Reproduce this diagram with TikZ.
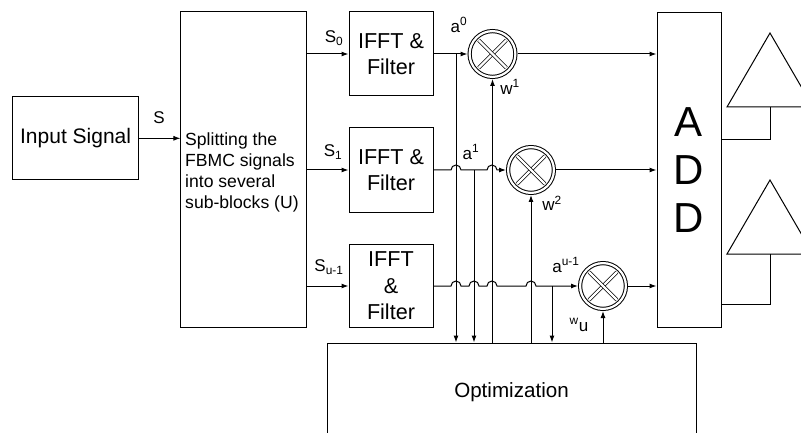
\documentclass[tikz,border=0pt]{standalone}
\usepackage{fontspec}
\setmainfont{Liberation Sans}
\usetikzlibrary{arrows.meta}

\tikzset{
    block/.style={draw, line width=1pt, inner sep=0pt, align=center},
    wire/.style={line width=1pt},
    arr/.style={wire, -{Latex[length=7pt,width=5pt]}},
    mult/.style={circle, draw, line width=1pt, double, double distance=2.2pt,
        minimum size=45.8pt, inner sep=0pt, outer sep=2.1pt},
    xmark/.style={line width=.8pt, double, double distance=2.2pt,
        shorten >=5.5pt, shorten <=5.5pt},
    lbl/.style={inner sep=0pt, font=\fontsize{17}{20}\selectfont},
}

\begin{document}
\begin{tikzpicture}[x=1pt, y=-1pt]
    \useasboundingbox (0,0) rectangle (801,433);
    \clip (0,0) rectangle (801,433);

    % blocks
    \node[block, minimum width=126pt, minimum height=83pt,
        font=\fontsize{21}{25}\selectfont] (input) at (75.6,138.3) {Input Signal};
    \node[block, minimum width=125.7pt, minimum height=315.7pt] (split) at (243.8,169.8) {};
    \node[anchor=north west, align=left, inner sep=0pt,
        font=\fontsize{17.6}{21}\selectfont] (splittext) at (185,133)
        {Splitting the\\FBMC signals\\into several\\sub-blocks (U)};
    \node[block, minimum width=84pt, minimum height=84pt,
        font=\fontsize{21.6}{26}\selectfont] (f1) at (391,54) {IFFT \&\\Filter};
    \node[block, minimum width=84pt, minimum height=84pt,
        font=\fontsize{21.6}{26}\selectfont] (f2) at (391,170) {IFFT \&\\Filter};
    \node[block, minimum width=84pt, minimum height=83pt,
        font=\fontsize{21.6}{26.5}\selectfont] (f3) at (391,286) {IFFT\\\&\\Filter};
    \node[mult] (m1) at (492.5,54) {};
    \node[mult] (m2) at (531,170) {};
    \node[mult] (m3) at (603,286) {};
    \foreach \m in {m1,m2,m3} {
        \draw[xmark] (\m.45) -- (\m.225);
        \draw[xmark] (\m.135) -- (\m.315);
    }
    \node[block, minimum width=64pt, minimum height=314pt,
        font=\fontsize{42}{48}\selectfont] (add) at (689,170) {A\\D\\D};
    \node[block, minimum width=369pt, minimum height=98pt,
        font=\fontsize{20.6}{24}\selectfont] (opt) at (511.5,392) {Optimization};

    % antennas
    \draw[wire] (727,107) -- (770,33) -- (813,107) -- cycle;
    \draw[wire] (727,254) -- (770,180) -- (813,254) -- cycle;
    \coordinate (ant1) at (770,107);
    \coordinate (ant2) at (770,254);
    \draw[wire] (add.east |- 0,140) -| (ant1);
    \draw[wire] (add.east |- 0,304) -| (ant2);

    % labels
    \node[lbl] (lS) at (159,118) {S};
    \node[lbl] (lS0) at (334,38) {S\textsubscript{0}};
    \node[lbl] (lS1) at (333,152) {S\textsubscript{1}};
    \node[lbl] (lSu) at (329,267) {S\textsubscript{u-1}};
    \node[lbl] (la0) at (459,25) {a\textsuperscript{0}};
    \node[lbl] (lw1) at (510,87) {w\textsuperscript{1}};
    \node[lbl] (la1) at (471,152) {a\textsuperscript{1}};
    \node[lbl] (lw2) at (552,203) {w\textsuperscript{2}};
    \node[lbl] (lau) at (566,265) {a\textsuperscript{u-1}};
    \node[lbl] (lwu) at (579,325) {\textsuperscript{w}u};

    % signal path
    \draw[arr] (input.east) -- (input.east -| split.west);
    \draw[arr] (split.east |- f1.west) -- (f1.west);
    \draw[arr] (split.east |- f2.west) -- (f2.west);
    \draw[arr] (split.east |- f3.west) -- (f3.west);

    \coordinate (j1) at (456,54);
    \coordinate (j2) at (474,170);
    \coordinate (j3) at (552,286);
    \draw[arr] (f1.east) -- (m1.west);
    \draw[arr] (f2.east)
        -- (451,170) arc[start angle=180, end angle=360, radius=5]
        -- (487,170) arc[start angle=180, end angle=360, radius=5]
        -- (m2.west);
    \draw[arr] (f3.east)
        -- (451,286) arc[start angle=180, end angle=360, radius=5]
        -- (469,286) arc[start angle=180, end angle=360, radius=5]
        -- (487,286) arc[start angle=180, end angle=360, radius=5]
        -- (526,286) arc[start angle=180, end angle=360, radius=5]
        -- (m3.west);

    % to and from the optimization
    \draw[arr] (j1) -- (j1 |- opt.north);
    \draw[arr] (j2) -- (j2 |- opt.north);
    \draw[arr] (j3) -- (j3 |- opt.north);
    \draw[arr] (m1.south |- opt.north) -- (m1.south);
    \draw[arr] (m2.south |- opt.north) -- (m2.south);
    \draw[arr] (m3.south |- opt.north) -- (m3.south);

    % into the adder
    \draw[arr] (m1.east) -- (m1.east -| add.west);
    \draw[arr] (m2.east) -- (m2.east -| add.west);
    \draw[arr] (m3.east) -- (m3.east -| add.west);
\end{tikzpicture}
\end{document}
